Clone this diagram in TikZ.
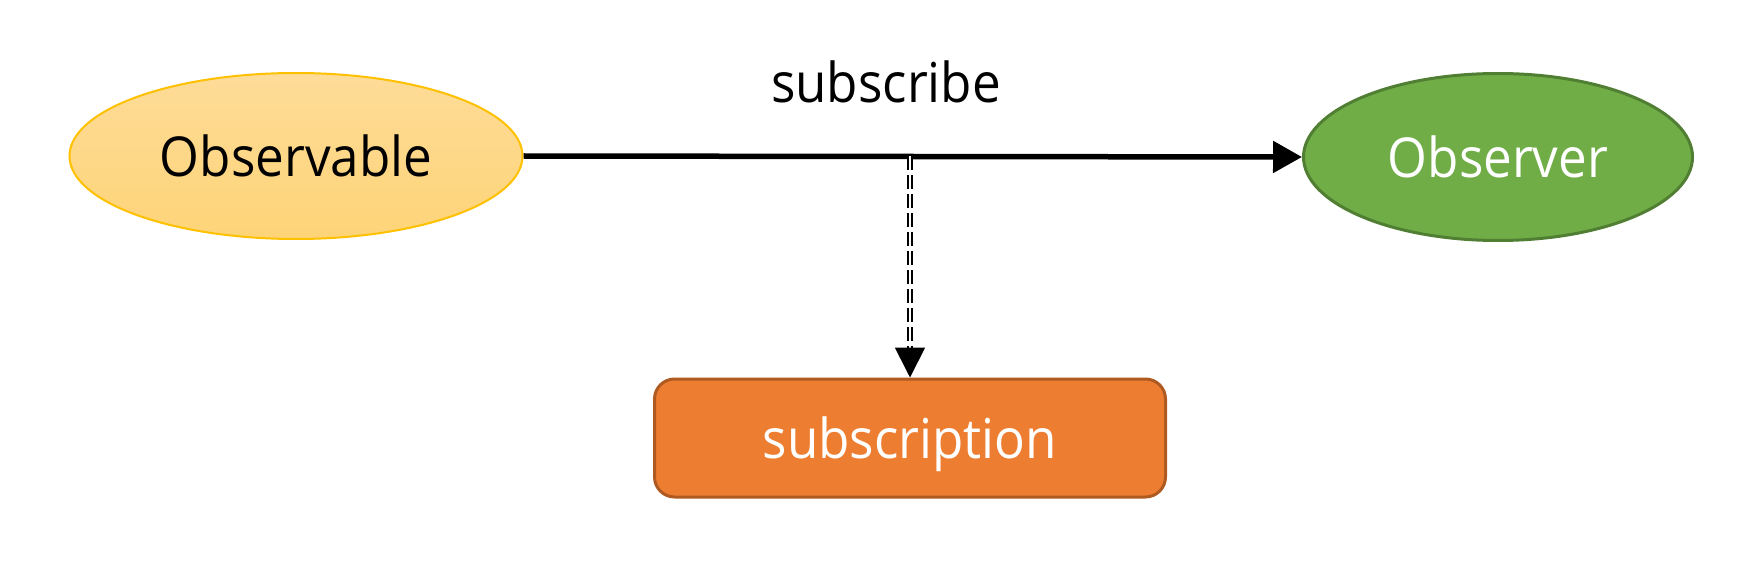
\documentclass[tikz,border=0pt]{standalone}
\usepackage{fontspec}
\setmainfont{Open Sans}[FakeStretch=0.93]
\usetikzlibrary{shapes.geometric,arrows.meta,calc}
\definecolor{obsfillT}{RGB}{254,220,152}
\definecolor{obsfillB}{RGB}{254,212,120}
\definecolor{obsdraw}{RGB}{255,192,0}
\definecolor{obrfill}{RGB}{112,173,71}
\definecolor{obrdraw}{RGB}{80,126,50}
\definecolor{subfill}{RGB}{237,125,49}
\definecolor{subdraw}{RGB}{174,90,33}
\begin{document}
\begin{tikzpicture}[x=1pt,y=-1pt,
  every node/.style={font=\fontsize{55pt}{60pt}\selectfont, inner sep=0pt},
  ellipsebox/.style={ellipse, inner sep=0pt},
  connector/.style={line width=5.5pt, -{Triangle[length=29pt,width=31pt]}},
  dashconn/.style={double, double distance=2.4pt, line width=1.8pt,
     dash pattern=on 14pt off 5pt, -{Triangle[length=30pt,width=30pt]}}
]
\useasboundingbox (0,0) rectangle (1762,564);
\node[ellipsebox, draw=obsdraw, line width=2pt, top color=obsfillT, bottom color=obsfillB,
      minimum width=453pt, minimum height=166pt] (obs) at (296,156) {Observable};
\node[ellipsebox, draw=obrdraw, line width=3pt, fill=obrfill, text=white,
      minimum width=389pt, minimum height=167pt] (obr) at (1498,157) {Observer};
\node[rectangle, rounded corners=20pt, draw=subdraw, line width=3pt, fill=subfill, text=white,
      minimum width=511pt, minimum height=118pt, text depth=0pt] (sub) at (910,438) {subscription};
\node[anchor=base] (lbl) at (886,103) {subscribe};
\draw[connector] (obs.east) -- (obr.west);
\coordinate (j) at (sub.north |- obs.east);
\draw[dashconn] (j) -- (sub.north);
\end{tikzpicture}
\end{document}
